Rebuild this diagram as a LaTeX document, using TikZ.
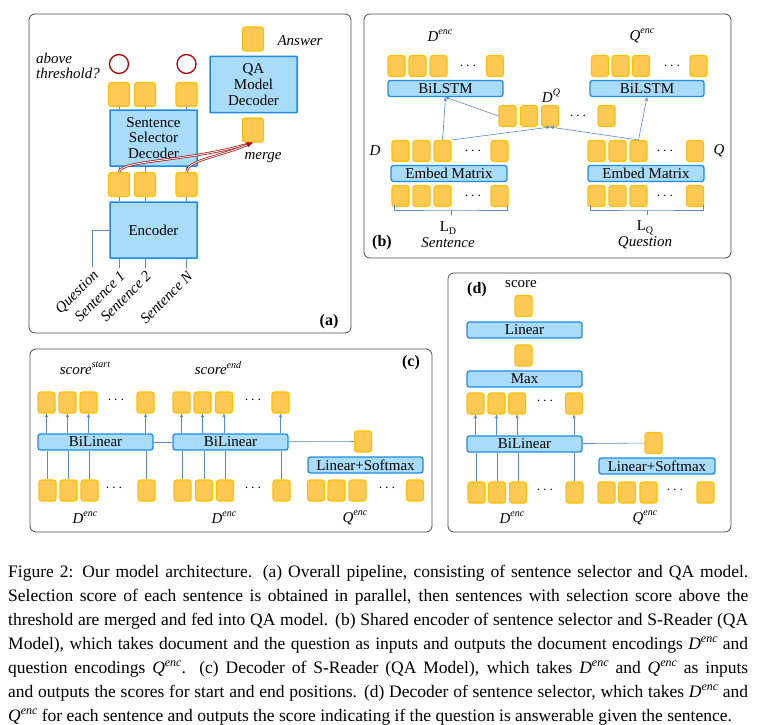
\documentclass[tikz,border=0pt]{standalone}
\usepackage{fontspec}
\setmainfont{Liberation Serif}
\usetikzlibrary{arrows.meta}

\definecolor{sqfill}{HTML}{FFC954}
\definecolor{sqline}{HTML}{FFC000}
\definecolor{blkfill}{HTML}{A9DCFA}
\definecolor{blkline}{HTML}{1E8CE6}
\definecolor{lnk}{HTML}{5A8AC8}
\definecolor{mrgred}{HTML}{B40000}

% superscripts and subscripts in labels
\newcommand\supx[1]{\raisebox{0.45em}{\fontsize{10}{10}\selectfont #1}}
\newcommand\subx[1]{\raisebox{-0.25em}{\fontsize{10}{10}\selectfont #1}}
\newcommand\capsup[1]{\raisebox{0.4em}{\fontsize{12}{12}\selectfont\itshape #1}}

\tikzset{
  panel/.style={draw=black!70, line width=0.8pt, rounded corners=6pt},
  sqbox/.style={draw=sqline, fill=sqfill, line width=1.1pt, rounded corners=2.5pt, inner sep=0pt},
  sqa/.style={sqbox, minimum width=21pt, minimum height=24pt},
  sqs/.style={sqbox, minimum width=17pt, minimum height=21pt},
  blk/.style={draw=blkline, fill=blkfill, line width=1.3pt, rounded corners=2.5pt, inner sep=0pt, minimum height=16pt},
  blka/.style={blk, rounded corners=0.5pt, line width=1.5pt, minimum width=87pt, minimum height=56pt, align=center, font=\fontsize{15}{15.7}\selectfont},
  lbl/.style={font=\fontsize{15}{15.7}\selectfont\itshape, inner sep=0pt},
  plabel/.style={font=\fontsize{16}{16}\selectfont\bfseries, inner sep=0pt},
  ellip/.style={inner sep=0pt},
  circ/.style={circle, draw=mrgred, line width=1.3pt, minimum size=19pt, inner sep=0pt},
  conn/.style={draw=lnk, line width=0.6pt},
  arr/.style={conn, -{Stealth[length=4pt, width=3.5pt]}},
  brc/.style={draw=lnk, line width=0.6pt},
  mrgarr/.style={draw=mrgred, double=white, double distance=0.9pt, line width=0.7pt, -{Latex[length=6pt, width=5pt]}}
}

\begin{document}
\begin{tikzpicture}[x=1pt, y=-1pt, font=\fontsize{15}{15.7}\selectfont]
\useasboundingbox (0,0) rectangle (758,725);

% (a) pipeline
\draw[panel] (29,14) rectangle (351,333);
\node[sqa] (ans) at (253,39) {};
\node[lbl] (ansl) at (300,41) {Answer};
\node[blka] (qa) at (253.5,84.5) {QA\\Model\\Decoder};
\node[sqa] (mrg) at (253,130) {};
\node[lbl] (mrgl) at (263,158) {merge};
\node[lbl, align=left, anchor=west] (thr) at (36,66) {above\\threshold?};
\node[circ] (c1) at (119,64) {};
\node[circ] (c3) at (186.5,64) {};
\foreach \x [count=\i] in {119,145,186.5} {
  \node[sqa] (so\i) at (\x,94.5) {};
  \node[sqa] (si\i) at (\x,184.5) {};
}
\node[blka] (sel) at (153.5,138) {Sentence\\Selector\\Decoder};
\node[blka] (enc) at (153.5,230) {Encoder};
\foreach \i in {1,2,3} {
  \draw[conn] (so\i) -- (so\i |- sel.north);
  \draw[conn] (si\i |- sel.south) -- (si\i);
  \draw[conn] (si\i) -- (si\i |- enc.north);
  \draw[conn] (enc.south -| si\i) -- ++(0,9) coordinate (in\i);
}
\draw[conn] (enc.west) -- ++(-17,0) -- ++(0,37) coordinate (inq);
\node[lbl, rotate=45, anchor=north east] (qlab) at ([yshift=-2pt]inq) {Question};
\node[lbl, rotate=45, anchor=north east] (s1lab) at ([yshift=-2pt]in1) {Sentence 1};
\node[lbl, rotate=45, anchor=north east] (s2lab) at ([yshift=-2pt]in2) {Sentence 2};
\node[lbl, rotate=45, anchor=north east] (snlab) at ([yshift=-2pt]in3) {Sentence N};
% merged sentences
\draw[mrgarr] (si1.north) .. controls (121,160) and (185,162) .. (mrg.south);
\draw[mrgarr] (si3.north) .. controls (188,160) and (215,158) .. (mrg.south);
\node[plabel] (taga) at (329,322) {(a)};

% (b) shared encoder
\draw[panel] (364,14) rectangle (731,258);
\foreach \x [count=\i] in {396.5,417.5,438.5,495} {\node[sqs] (hd\i) at (\x,66) {};}
\node[ellip] (hdd) at (468,66) {$\cdots$};
\node[blk, minimum width=115pt] (lstmd) at (445.5,88.5) {BiLSTM};
\node[lbl] (denc) at (440,36) {\textit{D}\supx{\textit{enc}}};
\foreach \x [count=\i] in {600,620.5,641,698.5} {\node[sqs] (hq\i) at (\x,66) {};}
\node[ellip] (hqd) at (672,66) {$\cdots$};
\node[blk, minimum width=114pt] (lstmq) at (647,88.5) {BiLSTM};
\node[lbl] (qenc) at (642,36) {\textit{Q}\supx{\textit{enc}}};
\foreach \x [count=\i] in {507.5,529,550,606.5} {\node[sqs] (dq\i) at (\x,116) {};}
\node[ellip] (dqd) at (578,116) {$\cdots$};
\node[lbl] (dql) at (551,96) {\textit{D}\supx{\textit{Q}}};
\foreach \x [count=\i] in {400.5,421.5,442.5,499.5} {
  \node[sqs] (de\i) at (\x,151) {};
  \node[sqs] (dw\i) at (\x,196) {};
}
\node[ellip] (ded) at (473,151) {$\cdots$};
\node[ellip] (dwd) at (473,196) {$\cdots$};
\node[blk, minimum width=116pt] (embd) at (449,173.5) {Embed Matrix};
\foreach \x [count=\i] in {596.5,617.5,638.5,695} {
  \node[sqs] (qe\i) at (\x,151) {};
  \node[sqs] (qw\i) at (\x,196) {};
}
\node[ellip] (qed) at (665,151) {$\cdots$};
\node[ellip] (qwd) at (665,196) {$\cdots$};
\node[blk, minimum width=116pt] (embq) at (646,173.5) {Embed Matrix};
\draw[brc] (394,205) |- (451,210) -| (507,205);
\draw[brc] (451,210) -- (451,215);
\draw[brc] (590,205) |- (647,210) -| (703,205);
\draw[brc] (647,210) -- (647,215);
\node (ld) at (448,228) {L\subx{D}};
\node[lbl] (sentl) at (448,243) {Sentence};
\node (lq) at (645,228) {L\subx{Q}};
\node[lbl] (questl) at (645,243) {Question};
\node[lbl] (dlab) at (375,151) {D};
\node[lbl] (qlab2) at (719,151) {Q};
\node[plabel] (tagb) at (382,243) {(b)};
\draw[arr] (de3.north) -- (lstmd.south);
\draw[arr] (dq1.west) -- (lstmd.south);
\draw[arr] (de3.north east) -- (dq3.south);
\draw[arr] (qe3.north) -- (dq3.south);
\draw[arr] (qe3.north) -- (lstmq.south);

% (c) S-Reader decoder
\draw[panel] (30,349) rectangle (432,532);
\node[lbl] (scs) at (85,368) {score\supx{\textit{start}}};
\node[lbl] (sce) at (218,368) {score\supx{\textit{end}}};
\node[plabel] (tagc) at (411,363) {(c)};
\foreach \x [count=\i] in {46.5,67.5,88.5,145.5} {\node[sqs] (st\i) at (\x,402.5) {};}
\node[ellip] (std) at (116,400) {$\cdots$};
\foreach \x [count=\i] in {47.5,68.5,89.5,146.5} {\node[sqs] (sb\i) at (\x,490.5) {};}
\node[ellip] (sbd) at (114,488) {$\cdots$};
\foreach \x [count=\i] in {181.5,202.5,224,280.5} {\node[sqs] (et\i) at (\x,402.5) {};}
\node[ellip] (etd) at (253,400) {$\cdots$};
\foreach \x [count=\i] in {182.5,204,225,281.5} {\node[sqs] (eb\i) at (\x,490.5) {};}
\node[ellip] (ebd) at (253,488) {$\cdots$};
\foreach \x [count=\i] in {316,336.5,357.5,415} {\node[sqs] (cq\i) at (\x,490.5) {};}
\node[ellip] (cqd) at (387,488) {$\cdots$};
\node[blk, minimum width=115pt] (bil1) at (95.5,442) {BiLinear};
\node[blk, minimum width=115pt] (bil2) at (230.5,442) {BiLinear};
\node[sqs] (cqs) at (363,441.5) {};
\node[blk, minimum width=115pt] (lsc) at (365.5,465) {Linear+Softmax};
\node[lbl] (dc1) at (85,518) {D\supx{enc}};
\node[lbl] (dc2) at (224,518) {D\supx{enc}};
\node[lbl] (qc) at (355,518) {Q\supx{enc}};
\foreach \i in {1,...,4} {
  \draw[conn] (sb\i) -- (sb\i |- bil1.south);
  \draw[arr] (st\i |- bil1.north) -- (st\i);
  \draw[conn] (eb\i) -- (eb\i |- bil2.south);
  \draw[arr] (et\i |- bil2.north) -- (et\i);
}
\draw[conn] (bil1) -- (bil2);
\draw[conn] (bil2) -- (cqs);

% (d) sentence selector decoder
\draw[panel] (448,273) rectangle (731,532);
\node[plabel] (tagd) at (477,290) {(d)};
\node (scl) at (521,284) {score};
\node[sqs] (dt) at (523.5,306) {};
\node[blk, minimum width=115pt] (lin) at (524.5,330) {Linear};
\node[sqs] (dm) at (523.5,355.5) {};
\node[blk, minimum width=115pt] (mx) at (524.5,379) {Max};
\foreach \x [count=\i] in {475.5,496.5,517,574} {\node[sqs] (mr\i) at (\x,403.5) {};}
\node[ellip] (mrd) at (545,401) {$\cdots$};
\node[blk, minimum width=115pt] (bild) at (524.5,444) {BiLinear};
\foreach \x [count=\i] in {476.5,497,518,574.5} {\node[sqs] (mb\i) at (\x,492.5) {};}
\node[ellip] (mbd) at (545,490) {$\cdots$};
\node[sqs] (qds) at (653.5,443) {};
\node[blk, minimum width=116pt] (lsd) at (657,466) {Linear+Softmax};
\foreach \x [count=\i] in {606.5,627,648.5,705.5} {\node[sqs] (mq\i) at (\x,492.5) {};}
\node[ellip] (mqd) at (675,490) {$\cdots$};
\node[lbl] (dd) at (512,518) {D\supx{enc}};
\node[lbl] (qd) at (645,518) {Q\supx{enc}};
\foreach \i in {1,...,4} {
  \draw[conn] (mb\i) -- (mb\i |- bild.south);
  \draw[arr] (mr\i |- bild.north) -- (mr\i);
}
\draw[conn] (bild) -- (qds);

% caption
\node[anchor=north west, text width=740pt, align=justify, inner sep=0pt,
  font=\fontsize{17.5}{24}\selectfont] (cap) at (8,565) {%
Figure 2: Our model architecture. (a) Overall pipeline, consisting of sentence selector and QA model.\linebreak
Selection score of each sentence is obtained in parallel, then sentences with selection score above the\linebreak
threshold are merged and fed into QA model. (b) Shared encoder of sentence selector and S-Reader (QA\linebreak
Model), which takes document and the question as inputs and outputs the document encodings \textit{D}\capsup{enc} and\linebreak
question encodings \textit{Q}\capsup{enc}. (c) Decoder of S-Reader (QA Model), which takes \textit{D}\capsup{enc} and \textit{Q}\capsup{enc} as inputs\linebreak
and outputs the scores for start and end positions. (d) Decoder of sentence selector, which takes \textit{D}\capsup{enc} and\linebreak
\textit{Q}\capsup{enc} for each sentence and outputs the score indicating if the question is answerable given the sentence.};
\end{tikzpicture}
\end{document}
